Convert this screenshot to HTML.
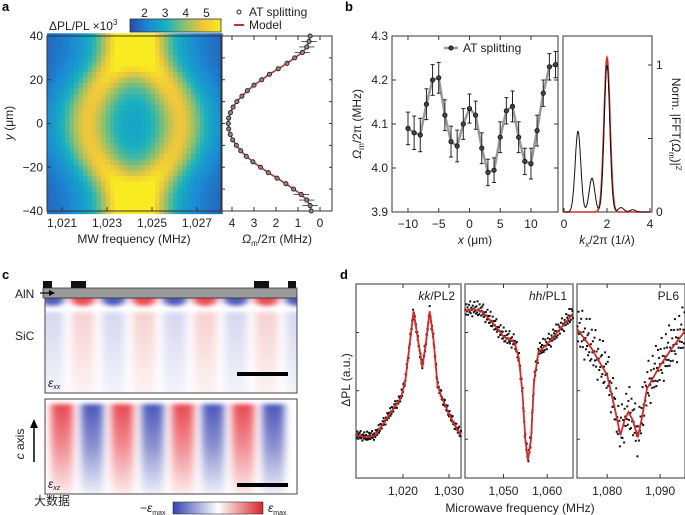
<!DOCTYPE html>
<html><head><meta charset="utf-8">
<style>
html,body{margin:0;padding:0;background:#fff;}
svg{display:block;font-family:"Liberation Sans","Noto Sans CJK SC",sans-serif;}
.t{font-size:12px;fill:#222;}
.pl{font-size:13px;font-weight:bold;fill:#000;}
</style></head>
<body>
<svg id="fig" width="685" height="515" viewBox="0 0 685 515" xmlns="http://www.w3.org/2000/svg">
<defs>
<linearGradient id="cb" x1="0" x2="1" y1="0" y2="0">
<stop offset="0" stop-color="#2b4aad"/><stop offset="0.2" stop-color="#1a8ad4"/><stop offset="0.4" stop-color="#18b1c0"/><stop offset="0.6" stop-color="#8cc070"/><stop offset="0.8" stop-color="#eec63c"/><stop offset="1" stop-color="#f8ec20"/>
</linearGradient>
<linearGradient id="cbc" x1="0" x2="1" y1="0" y2="0">
<stop offset="0" stop-color="#3344b0"/><stop offset="0.5" stop-color="#ffffff"/><stop offset="1" stop-color="#d8262a"/>
</linearGradient>
<linearGradient id="gR" x1="0" x2="0" y1="0" y2="1"><stop offset="0" stop-color="#e84850"/><stop offset="0.45" stop-color="#f08a90"/><stop offset="1" stop-color="#fdf0f0"/></linearGradient>
<linearGradient id="gB" x1="0" x2="0" y1="0" y2="1"><stop offset="0" stop-color="#4a56b8"/><stop offset="0.45" stop-color="#8a90d0"/><stop offset="1" stop-color="#f2f2fb"/></linearGradient>
<linearGradient id="gr2" x1="0" x2="0" y1="0" y2="1"><stop offset="0" stop-color="#f6d0d0"/><stop offset="1" stop-color="#fdf6f6"/></linearGradient>
<linearGradient id="gb2" x1="0" x2="0" y1="0" y2="1"><stop offset="0" stop-color="#d6d6f0"/><stop offset="1" stop-color="#f6f6fc"/></linearGradient>
<filter id="blurx" x="-20%" y="-20%" width="140%" height="140%"><feGaussianBlur stdDeviation="4 2"/></filter>
<clipPath id="clipxx"><rect x="45" y="298" width="252" height="95"/></clipPath>
<clipPath id="clipxz"><rect x="45" y="399" width="252" height="95"/></clipPath>
</defs>
<g id="root"></g>
</svg>
<script>
// ---------- Panel a data ----------
const aY = [-40,-37.5,-35,-32.5,-30,-27.5,-25,-22.5,-20,-17.5,-15,-12.5,-10,-7.5,-5,-2.5,0,2.5,5,7.5,10,12.5,15,17.5,20,22.5,25,27.5,30,32.5,35,37.5,40];
const aOmega = [0.4,0.45,0.6,0.85,1.2,1.55,1.95,2.35,2.7,3.05,3.35,3.6,3.8,3.97,4.08,4.15,4.17,4.15,4.07,3.95,3.78,3.55,3.3,3.0,2.65,2.3,1.9,1.5,1.15,0.8,0.6,0.5,0.45];
const aXTicks = [1021,1023,1025,1027];
const aXTickLabels = ["1,021","1,023","1,025","1,027"];
const aYTicks = [-40,-20,0,20,40];
const aOmTicks = [4,3,2,1,0];
const aCbTicks = [2,3,4,5];
const aCenter = 1024.2;
// ---------- Panel b data ----------
const bX = [-10,-9,-8,-7,-6,-5,-4,-3,-2,-1,0,1,2,3,4,5,6,7,8,9,10,11,12,13,14];
const bOm = [4.09,4.08,4.075,4.145,4.2,4.205,4.12,4.06,4.05,4.10,4.135,4.12,4.045,3.99,3.995,4.07,4.13,4.14,4.07,4.015,4.01,4.085,4.17,4.23,4.235];
const bErr = [0.037,0.038,0.038,0.035,0.035,0.035,0.035,0.035,0.036,0.035,0.033,0.032,0.035,0.03,0.028,0.035,0.03,0.035,0.035,0.03,0.035,0.035,0.03,0.03,0.03];
const bXTicks = [-10,-5,0,5,10];
const bYTicks = [3.9,4.0,4.1,4.2,4.3];
const fftPeakK = [0.65,1.3,2.0,2.65,3.2];
const fftPeakAmp = [0.55,0.23,1.0,0.03,0.015];
const fitPeakK = [2.0];
const fitPeakAmp = [1.05];
const fftXTicks = [0,2,4];
const fftYTicks = [0,1];
// ---------- Panel d data ----------
const d1Freq = [1010,1012,1014,1016,1018,1019.5,1020.5,1021.5,1022.3,1023.2,1024.2,1025,1025.8,1026.6,1027.5,1028.5,1030,1031.5,1033];
const d1Val = [0.22,0.21,0.22,0.29,0.36,0.41,0.5,0.7,0.86,0.72,0.57,0.7,0.86,0.72,0.48,0.41,0.33,0.26,0.21];
const d2Freq = [1041,1043,1045,1047.5,1050,1052.5,1053.5,1054.3,1055,1055.6,1056.3,1057,1058,1060,1063,1066];
const d2Val = [0.86,0.87,0.86,0.8,0.73,0.70,0.62,0.45,0.2,0.09,0.2,0.5,0.65,0.69,0.77,0.85];
const d3Freq = [1074,1077,1080,1081.5,1082.5,1083.3,1084,1084.8,1085.8,1086.7,1087.5,1090,1092,1095];
const d3Val = [0.78,0.67,0.53,0.35,0.22,0.3,0.34,0.3,0.21,0.33,0.46,0.58,0.66,0.77];
const dResid = [0.3,-0.8,1.1,-0.2,0.6,-1.3,0.1,0.9,-0.5,1.6,-1.0,0.4,-0.1,-1.7,0.7,0.2,-0.6,1.3,-0.3,0.5,-1.1,0.8,-0.4,2.2,-0.9];
const d1Ticks=[1020,1030], d2Ticks=[1050,1060], d3Ticks=[1080,1090];
// ---------- Panel c data ----------
const cXXSigns = [-1,1,-1,1,-1,1,-1,1,-1];
const cXZSigns = [1,-1,1,-1,1,-1,1,-1];

const NS="http://www.w3.org/2000/svg";
const root=document.getElementById('root');
function el(tag,attrs,parent){const e=document.createElementNS(NS,tag);for(const k in attrs)e.setAttribute(k,attrs[k]);(parent||root).appendChild(e);return e;}
function txt(x,y,s,attrs,parent){const e=el('text',Object.assign({x:x,y:y,class:'t'},attrs||{}),parent);e.textContent=s;return e;}
function lin(d0,d1,r0,r1){return v=>r0+(v-d0)*(r1-r0)/(d1-d0);}
function interp(xs,ys,x){if(x<=xs[0])return ys[0];for(let i=1;i<xs.length;i++){if(x<=xs[i]){const t=(x-xs[i-1])/(xs[i]-xs[i-1]);return ys[i-1]+t*(ys[i]-ys[i-1]);}}return ys[ys.length-1];}

[['a',2,11],['b',345,11],['c',2,279],['d',340,279]].forEach(p=>{const t=txt(p[1],p[2],p[0],{class:'pl'});});

// ===== Panel a heatmap =====
const ax = lin(1020.33,1028.07,47,221);
const ay = lin(-40,40,211,36);
const stops=[[0,[43,74,173]],[0.2,[26,138,212]],[0.4,[24,177,192]],[0.6,[140,192,112]],[0.8,[238,198,60]],[1,[248,236,32]]];
function cmap(v){let t=(v-1.4)/(5.0-1.4);t=Math.max(0,Math.min(1,t));for(let i=1;i<stops.length;i++){if(t<=stops[i][0]){const a=stops[i-1],b=stops[i];const u=(t-a[0])/(b[0]-a[0]);return 'rgb('+a[1].map((c,j)=>Math.round(c+u*(b[1][j]-c))).join(',')+')';}}return 'rgb(248,236,32)';}
const heat=el('g',{});


const df=0.2;
for(let i=0;i<aY.length;i++){
  const yTop=ay(aY[i]+1.25), yBot=ay(aY[i]-1.25);
  for(let f=1020.33;f<1028.07;f+=df){
    const g=1.15, s=aOmega[i]/2;
    const L=1/(1+Math.pow((f+df/2-aCenter-s)/g,2))+1/(1+Math.pow((f+df/2-aCenter+s)/g,2));
    const v=1.3+2.8*L;
    const r=el('rect',{x:ax(f).toFixed(2),y:Math.min(yTop,yBot).toFixed(2),width:(ax(f+df)-ax(f)+0.4).toFixed(2),height:(Math.abs(yBot-yTop)+0.4).toFixed(2),fill:cmap(v)},heat);
    
    
  }
}
el('rect',{x:47,y:36,width:174,height:175,fill:'none',stroke:'#333','stroke-width':1});
aXTicks.forEach((t,i)=>{el('line',{x1:ax(t),x2:ax(t),y1:211,y2:207,stroke:'#333'});const l=txt(ax(t),227,aXTickLabels[i],{'text-anchor':'middle'});});
aYTicks.forEach(t=>{el('line',{x1:47,x2:51,y1:ay(t),y2:ay(t),stroke:'#333'});const l=txt(43,ay(t)+4,String(t).replace('-','\u2212'),{'text-anchor':'end'});});
let tt=txt(134,243,'MW frequency (MHz)',{'text-anchor':'middle'});
tt=el('text',{x:0,y:0,class:'t','text-anchor':'middle',transform:'translate(13,123) rotate(-90)'});tt.innerHTML='<tspan font-style="italic">y</tspan> (\u03bcm)';
const cbr=el('rect',{x:130,y:19,width:91,height:13,fill:'url(#cb)',stroke:'#333','stroke-width':0.8});

const cbx=lin(1.4,5.8,130,221);
aCbTicks.forEach(t=>{const l=txt(cbx(t)+2,17,String(t),{'text-anchor':'middle'});});
tt=el('text',{x:49,y:30,class:'t'});tt.innerHTML='\u0394PL/PL \u00d710<tspan dy="-5" font-size="8">3</tspan>';

const ox=lin(0,4,320,232);
el('rect',{x:222,y:36,width:110,height:175,fill:'#fff',stroke:'#333','stroke-width':1});
aOmTicks.forEach(t=>{el('line',{x1:ox(t),x2:ox(t),y1:211,y2:207,stroke:'#333'});el('line',{x1:ox(t),x2:ox(t),y1:36,y2:40,stroke:'#333'});const l=txt(ox(t),227,String(t),{'text-anchor':'middle'});});
aYTicks.concat([-30,-10,10,30]).forEach(t=>{el('line',{x1:222,x2:225,y1:ay(t),y2:ay(t),stroke:'#333'});el('line',{x1:329,x2:332,y1:ay(t),y2:ay(t),stroke:'#333'});});
let pd='';aY.forEach((y,i)=>{pd+=(i?'L':'M')+ox(aOmega[i]).toFixed(1)+','+ay(y).toFixed(1);});
const modelA=el('path',{d:pd,fill:'none',stroke:'#d42a2a','stroke-width':1.6});

aY.forEach((y,i)=>{
  const e=Math.abs(y)>32?0.35:0.05;
  el('line',{x1:ox(aOmega[i]-e),x2:ox(aOmega[i]+e),y1:ay(y),y2:ay(y),stroke:'#333','stroke-width':0.8});
  const c=el('circle',{cx:ox(aOmega[i]),cy:ay(y),r:2.1,fill:'#888',stroke:'#222','stroke-width':0.9});
  
});
tt=el('text',{x:277,y:243,class:'t','text-anchor':'middle'});tt.innerHTML='<tspan font-style="italic">\u03a9</tspan><tspan font-size="8" dy="3">m</tspan><tspan dy="-3">/2\u03c0 (MHz)</tspan>';
const lg=el('g',{});
el('circle',{cx:239,cy:12,r:2,fill:'#fff',stroke:'#222'},lg);txt(249,16,'AT splitting',{},lg);
el('line',{x1:234,x2:244,y1:25,y2:25,stroke:'#d42a2a','stroke-width':2},lg);txt(249,29,'Model',{},lg);

// ===== Panel b =====
const bx=lin(-12.6,14.4,392,558), by=lin(3.9,4.3,212,36);
el('rect',{x:392,y:36,width:166,height:176,fill:'#fff',stroke:'#333','stroke-width':1});
bXTicks.forEach(t=>{el('line',{x1:bx(t),x2:bx(t),y1:212,y2:208,stroke:'#333'});el('line',{x1:bx(t),x2:bx(t),y1:36,y2:40,stroke:'#333'});const l=txt(bx(t),228,String(t).replace('-','\u2212'),{'text-anchor':'middle'});});
bYTicks.forEach(t=>{el('line',{x1:392,x2:396,y1:by(t),y2:by(t),stroke:'#333'});el('line',{x1:554,x2:558,y1:by(t),y2:by(t),stroke:'#333'});const l=txt(388,by(t)+4,t.toFixed(1),{'text-anchor':'end'});});
pd='';bX.forEach((x,i)=>{pd+=(i?'L':'M')+bx(x).toFixed(1)+','+by(bOm[i]).toFixed(1);});
const bl=el('path',{d:pd,fill:'none',stroke:'#999','stroke-width':2.5});
bX.forEach((x,i)=>{
  const X=bx(x);
  el('line',{x1:X,x2:X,y1:by(bOm[i]-bErr[i]),y2:by(bOm[i]+bErr[i]),stroke:'#222','stroke-width':1});
  el('line',{x1:X-2,x2:X+2,y1:by(bOm[i]-bErr[i]),y2:by(bOm[i]-bErr[i]),stroke:'#222'});
  el('line',{x1:X-2,x2:X+2,y1:by(bOm[i]+bErr[i]),y2:by(bOm[i]+bErr[i]),stroke:'#222'});
  const c=el('circle',{cx:X,cy:by(bOm[i]),r:2.2,fill:'#444',stroke:'#111','stroke-width':0.8});
  
});
const lgb=el('g',{});
el('line',{x1:444,x2:458,y1:48,y2:48,stroke:'#999','stroke-width':2.5},lgb);el('circle',{cx:451,cy:48,r:2,fill:'#444',stroke:'#111'},lgb);txt(463,52,'AT splitting',{},lgb);
tt=el('text',{x:0,y:0,class:'t','text-anchor':'middle',transform:'translate(361,124) rotate(-90)'});tt.innerHTML='<tspan font-style="italic">\u03a9</tspan><tspan font-size="8" dy="3">m</tspan><tspan dy="-3">/2\u03c0 (MHz)</tspan>';
tt=el('text',{x:475,y:244,class:'t','text-anchor':'middle'});tt.innerHTML='<tspan font-style="italic">x</tspan> (\u03bcm)';
const fx=lin(0,4,564,650), fy=lin(0,1,212,65);
el('rect',{x:563,y:36,width:89,height:176,fill:'#fff',stroke:'#333','stroke-width':1});
fftXTicks.forEach(t=>{el('line',{x1:fx(t),x2:fx(t),y1:212,y2:208,stroke:'#333'});const l=txt(fx(t),228,String(t),{'text-anchor':'middle'});});
[0,0.5,1].forEach(t=>{el('line',{x1:648,x2:652,y1:fy(t),y2:fy(t),stroke:'#333'});});
fftYTicks.forEach(t=>{const l=txt(656,fy(t)+4,String(t),{});});
function peaks(ks,as,k,s){let v=0;ks.forEach((p,i)=>{v+=as[i]*Math.exp(-Math.pow(k-p,2)/(2*s*s));});return v;}
let pk='',pr='';
for(let k=0;k<=4.0001;k+=0.02){pk+=(k?'L':'M')+fx(k).toFixed(1)+','+fy(peaks(fftPeakK,fftPeakAmp,k,0.13)).toFixed(1);pr+=(k?'L':'M')+fx(k).toFixed(1)+','+fy(peaks(fitPeakK,fitPeakAmp,k,0.14)).toFixed(1);}
const rc=el('path',{d:pr,fill:'none',stroke:'#d42a2a','stroke-width':1.6});
const kc=el('path',{d:pk,fill:'none',stroke:'#111','stroke-width':1});
tt=el('text',{x:607,y:244,class:'t','text-anchor':'middle'});tt.innerHTML='<tspan font-style="italic">k</tspan><tspan font-size="8" dy="3" font-style="italic">x</tspan><tspan dy="-3">/2\u03c0 (1/</tspan><tspan font-style="italic">\u03bb</tspan>)';
tt=el('text',{x:0,y:0,class:'t','text-anchor':'middle',transform:'translate(672,124) rotate(90)'});tt.innerHTML='Norm. |FFT(<tspan font-style="italic">\u03a9</tspan><tspan font-size="8" dy="3">m</tspan><tspan dy="-3">)|</tspan><tspan font-size="8" dy="-4">2</tspan>';

// ===== Panel c =====
const cg=el('g',{});
el('rect',{x:45,y:298,width:252,height:95,fill:'#fff'},cg);
const cgi=el('g',{'clip-path':'url(#clipxx)'},cg);
const cgb=el('g',{filter:'url(#blurx)'},cgi);
const per=30.6;
cXXSigns.forEach((s,i)=>{const x0=37+i*per;
  el('rect',{x:x0+4,y:312,width:per-8,height:90,fill:s>0?'url(#gr2)':'url(#gb2)'},cgb);
  el('ellipse',{cx:x0+per/2,cy:299,rx:per*0.4,ry:7,fill:s>0?'#e8383e':'#3a48b4',opacity:0.9},cgb);
});
el('rect',{x:45,y:298,width:252,height:95,fill:'none',stroke:'#444','stroke-width':1},cg);
const aln=el('rect',{x:43,y:288,width:254,height:10,fill:'#999',stroke:'#333','stroke-width':0.8});
[[43,9],[71,15],[254,15],[288,8]].forEach(e=>{const r=el('rect',{x:e[0],y:281,width:e[1],height:7,fill:'#111'});});
el('rect',{x:237,y:372,width:51,height:4,fill:'#000'});
tt=txt(15,298,'AlN',{});
el('line',{x1:40,x2:53,y1:293,y2:293,stroke:'#000','stroke-width':1.2});el('path',{d:'M55,293 L49,290 L49,296 Z',fill:'#000'});
tt=txt(15,340,'SiC',{});
tt=el('text',{x:48,y:387,class:'t','font-size':'10','font-style':'italic'});tt.innerHTML='\u03b5<tspan font-size="7" dy="2">xx</tspan>';
const cg2=el('g',{});
el('rect',{x:45,y:399,width:252,height:95,fill:'#fff'},cg2);
const cg2i=el('g',{'clip-path':'url(#clipxz)'},cg2);
const cg2b=el('g',{filter:'url(#blurx)'},cg2i);
cXZSigns.forEach((s,i)=>{const cx=62+i*30.2;el('rect',{x:cx-11,y:404,width:22,height:92,fill:s>0?'url(#gR)':'url(#gB)'},cg2b);});
el('rect',{x:45,y:399,width:252,height:95,fill:'none',stroke:'#444','stroke-width':1},cg2);
el('rect',{x:237,y:483,width:51,height:4,fill:'#000'});
tt=el('text',{x:48,y:488,class:'t','font-size':'10','font-style':'italic'});tt.innerHTML='\u03b5<tspan font-size="7" dy="2">xz</tspan>';
el('line',{x1:34,x2:34,y1:462,y2:426,stroke:'#000','stroke-width':1.5});el('path',{d:'M34,419 L30,428 L38,428 Z',fill:'#000'});
tt=el('text',{x:0,y:0,class:'t','text-anchor':'middle',transform:'translate(24,444) rotate(-90)'});tt.innerHTML='<tspan font-style="italic">c</tspan> axis';
const cbc=el('rect',{x:173,y:502,width:90,height:12,fill:'url(#cbc)',stroke:'#333','stroke-width':0.6});
tt=el('text',{x:140,y:512,class:'t','font-size':'11'});tt.innerHTML='\u2212<tspan font-style="italic">\u03b5</tspan><tspan font-size="7" dy="3">max</tspan>';
tt=el('text',{x:268,y:512,class:'t','font-size':'11'});tt.innerHTML='<tspan font-style="italic">\u03b5</tspan><tspan font-size="7" dy="3">max</tspan>';
txt(34,505,'\u5927\u6570\u636e',{fill:'#ddd','font-size':'13'});

// ===== Panel d =====
function dPanel(x0,x1,f0,f1,fr,vals,ticks,noise,step,label,name){
  const g=el('g',{});
  const X=lin(f0,f1,x0,x1), Y=v=>478-v*194;
  el('rect',{x:x0,y:284,width:x1-x0,height:194,fill:'#fff',stroke:'#555','stroke-width':1.2},g);
  ticks.forEach(t=>{el('line',{x1:X(t),x2:X(t),y1:478,y2:474,stroke:'#333'},g);el('line',{x1:X(t),x2:X(t),y1:284,y2:288,stroke:'#333'},g);const l=txt(X(t),495,t.toLocaleString('en-US'),{'text-anchor':'middle'},g);});
  [0.2,0.45,0.75].forEach(v=>el('line',{x1:x0,x2:x0+3,y1:Y(v),y2:Y(v),stroke:'#333'},g));
  let n=0;
  for(let f=f0+0.1;f<f1;f+=step){const v=interp(fr,vals,f)+noise*dResid[n%dResid.length]*(0.6+0.4*((n*7)%5)/4);n++;
    if(v<0.02||v>0.99)continue;
    const d=el('rect',{x:(X(f)-1).toFixed(1),y:(Y(v)-1).toFixed(1),width:2,height:2,fill:'#111'},g);
    }
  let p='';for(let f=f0;f<=f1;f+=0.1){p+=(p?'L':'M')+X(f).toFixed(1)+','+Y(interp(fr,vals,f)).toFixed(1);}
  const c=el('path',{d:p,fill:'none',stroke:'#d42a2a','stroke-width':1.8},g);
  tt=el('text',{x:x1-6,y:300,class:'t','text-anchor':'end'},g);tt.innerHTML=label;
}
dPanel(356,461,1009.8,1032.6,d1Freq,d1Val,d1Ticks,0.018,0.1,'<tspan font-style="italic">kk</tspan>/PL2','subplot-pl2');
dPanel(465,573,1041.2,1065.9,d2Freq,d2Val,d2Ticks,0.03,0.12,'<tspan font-style="italic">hh</tspan>/PL1','subplot-pl1');
dPanel(577,685,1074.3,1094.7,d3Freq,d3Val,d3Ticks,0.09,0.1,'PL6','subplot-pl6');
tt=txt(520,512,'Microwave frequency (MHz)',{'text-anchor':'middle'});
tt=el('text',{x:0,y:0,class:'t','text-anchor':'middle',transform:'translate(350,380) rotate(-90)'});tt.textContent='\u0394PL (a.u.)';
</script>
</body></html>
